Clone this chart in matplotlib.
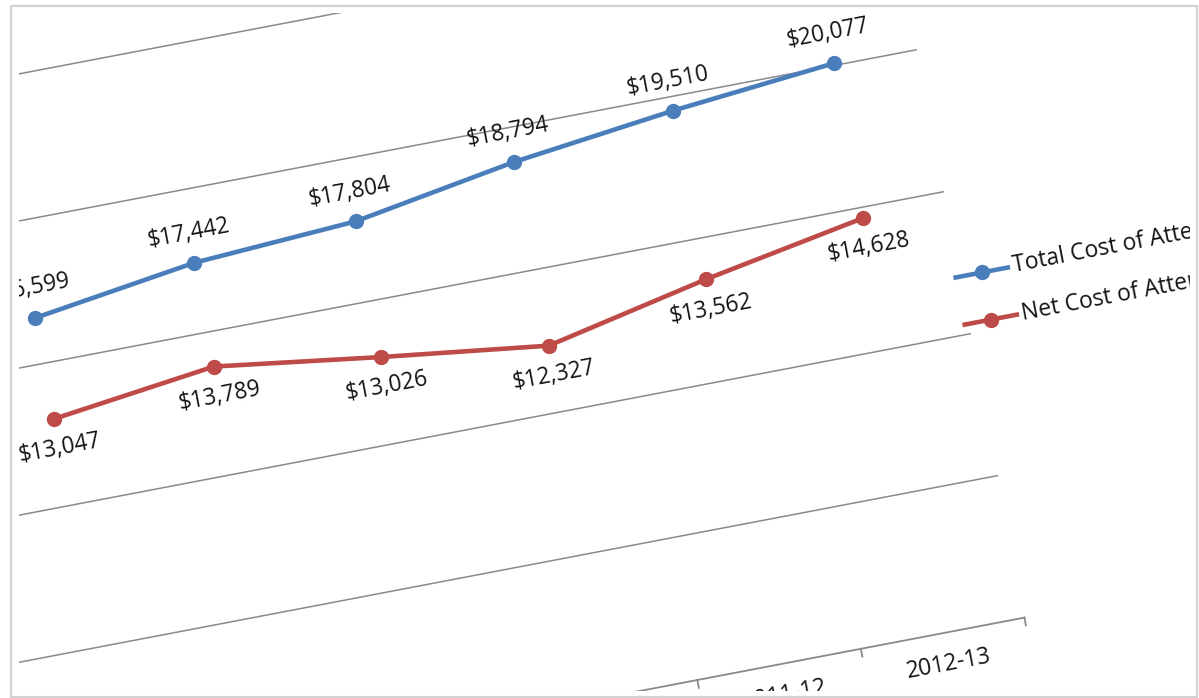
import matplotlib
matplotlib.use("Agg")
import matplotlib.pyplot as plt
from matplotlib.transforms import Affine2D, Bbox
from matplotlib.patches import Rectangle

# ---- data ----
years = ["2007-08", "2008-09", "2009-10", "2010-11", "2011-12", "2012-13"]
total_cost = [16599, 17442, 17804, 18794, 19510, 20077]
net_cost = [13047, 13789, 13026, 12327, 13562, 14628]
series_names = ["Total Cost of Attendance", "Net Cost of Attendance"]
grid_values = [5000, 10000, 15000, 20000, 25000]

BLUE = "#4a7ebb"
RED = "#be4b48"
GRID = "#8a8a8a"
TEXT = "#141414"

W, H = 1199, 698
fig = plt.figure(figsize=(W / 100, H / 100), dpi=100)
ax = fig.add_axes([0, 0, 1, 1])
ax.set_xlim(0, W)
ax.set_ylim(H, 0)
ax.axis("off")

# tilted page: local pixel frame (x along categories, y up along values)
ANGLE = 10.8
CAT_W = 166.5          # px per category
PX_PER_5K = 144.5      # px per $5,000
ORIGIN = (124.9, 789.2)

page = Affine2D().rotate_deg(ANGLE).scale(1, -1).translate(*ORIGIN) + ax.transData
chart = Affine2D().scale(CAT_W, PX_PER_5K / 5000) + page
px_to_val = 5000 / PX_PER_5K

# visible window of the photographed sheet
clip = Bbox.from_extents(19, H - 691, 1190, H - 13)


def clipped(artists):
    for a in artists:
        a.set_clip_on(True)
        a.set_clip_box(clip)
    return artists


n = len(years)
left, right = -0.5, n - 0.5

# gridlines and category axis
for g in grid_values:
    clipped(ax.plot([left, right], [g, g], transform=chart, color=GRID, lw=1.1, zorder=1))
clipped(ax.plot([left, right], [0, 0], transform=chart, color=GRID, lw=1.3, zorder=1))
for k in range(n + 1):
    xb = k - 0.5
    clipped(ax.plot([xb, xb], [0, -8 * px_to_val], transform=chart, color=GRID, lw=1.3, zorder=1))

for i, lab in enumerate(years):
    t = ax.text(i, -31 * px_to_val, lab, transform=chart, rotation=ANGLE,
                rotation_mode="anchor", ha="center", va="center",
                fontsize=16.5, family="Open Sans", color=TEXT)
    clipped([t])

# series
xs = list(range(n))
for vals, col, above in [(total_cost, BLUE, True), (net_cost, RED, False)]:
    clipped(ax.plot(xs, vals, transform=chart, color=col, lw=3.3, marker="o",
                    ms=10, solid_capstyle="round", zorder=3))
    off = (30 if above else -30) * px_to_val
    for i, v in enumerate(vals):
        t = ax.text(i, v + off, f"${v:,}", transform=chart, rotation=ANGLE,
                    rotation_mode="anchor", ha="center", va="center",
                    fontsize=16.3, family="Open Sans", color=TEXT, zorder=4)
        clipped([t])

# legend to the right of the plot area
for name, col, ly in [(series_names[0], BLUE, 347), (series_names[1], RED, 299)]:
    clipped(ax.plot([912, 965], [ly, ly], transform=page, color=col, lw=3.3, zorder=3))
    clipped(ax.plot([938.5], [ly], transform=page, color=col, marker="o", ms=10, zorder=3))
    t = ax.text(970, ly, name, transform=page, rotation=ANGLE, rotation_mode="anchor",
                ha="left", va="center", fontsize=16.5, family="Open Sans", color=TEXT)
    clipped([t])

# thin border around the picture
ax.add_patch(Rectangle((11, 6), 1186, 691, fill=False, edgecolor="#d2d2d2", lw=1.6, zorder=5))

fig.savefig("out.png", dpi=100, facecolor="white")
